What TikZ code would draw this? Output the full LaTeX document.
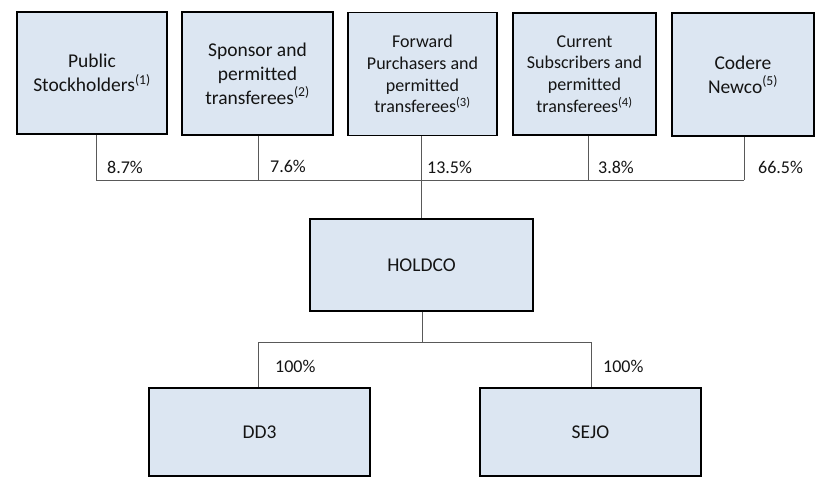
\documentclass[tikz,border=0pt]{standalone}
\usepackage{fontspec}
\setmainfont{Carlito}[Ligatures=NoCommon]
\definecolor{boxfill}{HTML}{DCE6F2}
\definecolor{conncol}{HTML}{595959}
\definecolor{txtcol}{HTML}{141414}
\begin{document}
\begin{tikzpicture}[x=1pt,y=-1pt,
  orgbox/.style={draw=black, line width=1.4pt, fill=boxfill, align=center, text=txtcol, inner sep=0pt},
  bigtxt/.style={font=\fontsize{19.5}{24}\selectfont},
  smalltxt/.style={font=\fontsize{18}{21.7}\selectfont},
  conn/.style={draw=conncol, line width=0.9pt},
  pct/.style={font=\fontsize{18}{21}\selectfont, text=txtcol, inner sep=0pt, anchor=west}]
\useasboundingbox (0,0) rectangle (833,489);
% top boxes
\node[orgbox,bigtxt,minimum width=150pt,minimum height=122pt] (b1) at (92,73) {Public\\Stockholders\textsuperscript{(1)}};
\node[orgbox,bigtxt,minimum width=151pt,minimum height=123pt] (b2) at (257.5,73.5) {Sponsor and\\permitted\\transferees\textsuperscript{(2)}};
\node[orgbox,smalltxt,minimum width=149pt,minimum height=123pt] (b3) at (422.5,74) {Forward\\Purchasers and\\permitted\\transferees\textsuperscript{(3)}};
\node[orgbox,smalltxt,minimum width=143pt,minimum height=122pt] (b4) at (584.5,74) {Current\\Subscribers and\\permitted\\transferees\textsuperscript{(4)}};
\node[orgbox,bigtxt,minimum width=142pt,minimum height=123pt] (b5) at (743,74.5) {Codere\\Newco\textsuperscript{(5)}};
% middle and bottom boxes
\node[orgbox,bigtxt,minimum width=223pt,minimum height=92pt] (hold) at (421.5,265) {HOLDCO};
\node[orgbox,bigtxt,minimum width=221pt,minimum height=88pt] (dd3) at (259.5,432) {DD3};
\node[orgbox,bigtxt,minimum width=221pt,minimum height=88pt] (sejo) at (590.5,432) {SEJO};
% junctions
\coordinate (j1) at (96,180);
\coordinate (j2) at (258,180);
\coordinate (j3) at (421,180);
\coordinate (j4) at (588,180);
\coordinate (j5) at (744,180);
\coordinate (k0) at (422,342);
\coordinate (k1) at (258,342);
\coordinate (k2) at (591,342);
% connectors top
\draw[conn] (j1 |- b1.south) -- (j1);
\draw[conn] (j2 |- b2.south) -- (j2);
\draw[conn] (j3 |- b3.south) -- (j3);
\draw[conn] (j4 |- b4.south) -- (j4);
\draw[conn] (j5 |- b5.south) -- (j5);
\draw[conn] (j1) -- (j5);
\draw[conn] (j3) -- (j3 |- hold.north);
% connectors bottom
\draw[conn] (k0 |- hold.south) -- (k0);
\draw[conn] (k1) -- (k2);
\draw[conn] (k1) -- (k1 |- dd3.north);
\draw[conn] (k2) -- (k2 |- sejo.north);
% labels
\node[pct] (p1) at (107,167) {8.7\%};
\node[pct] (p2) at (270,166) {7.6\%};
\node[pct] (p3) at (427,167) {13.5\%};
\node[pct] (p4) at (598,167) {3.8\%};
\node[pct] (p5) at (758,167) {66.5\%};
\node[pct] (p6) at (275,366) {100\%};
\node[pct] (p7) at (603,366) {100\%};
\end{tikzpicture}
\end{document}
